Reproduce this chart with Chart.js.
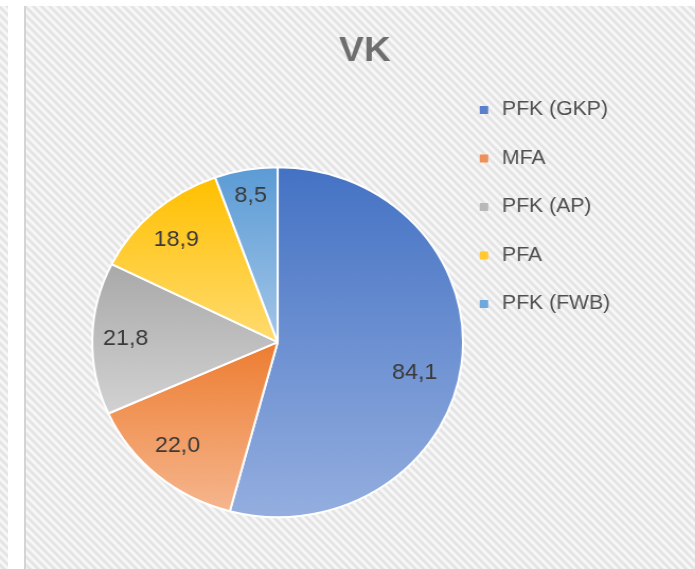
<!DOCTYPE html>
<html>
<head>
<meta charset="utf-8">
<script src="https://cdn.jsdelivr.net/npm/chart.js@4.4.0/dist/chart.umd.min.js"></script>
<style>
  html, body { margin: 0; padding: 0; }
  body { width: 695px; height: 569px; overflow: hidden; position: relative; background: #fff; }
  .hatch {
    position: absolute;
    background: repeating-linear-gradient(45deg, #fbfbfb 0px, #e0e0e0 2.9px, #fbfbfb 5.8px);
  }
  #strip { left: 0; top: 6px; width: 8px; bottom: 0; }
  #panel { left: 24px; top: 6px; right: 0; bottom: 0; border-left: 2px solid #d4d4d4; }
  /* the reference is stretched a little horizontally, so stretch the canvas the same way */
  #wrap { position: absolute; left: 0; top: 0; width: 656px; height: 569px; transform: scaleX(1.0595); transform-origin: 0 0; }
</style>
</head>
<body>
<div id="strip" class="hatch"></div>
<div id="panel" class="hatch"></div>
<div id="wrap"><canvas id="chart" width="656" height="569"></canvas></div>
<script>
const categories = ['PFK (GKP)', 'MFA', 'PFK (AP)', 'PFA', 'PFK (FWB)'];
const values = [84.1, 22.0, 21.8, 18.9, 8.5];
const baseColors = ['#4472C4', '#ED7D31', '#A9A9A9', '#FFC000', '#5B9BD5'];
const lightColors = ['#94AEDF', '#F6B68E', '#D2D2D2', '#FFDB70', '#A3C6E8'];
const legendColors = ['#5A80C9', '#EE9058', '#B8B8B8', '#FFCA33', '#70A8DB'];

const PIE_RADIUS = 175;
// label placement inside each slice (fraction of radius, angle tweak in degrees)
const labelDist = [0.76, 0.80, 0.82, 0.80, 0.85];
const labelShift = [6, 2, 0, -1.5, 0];

const fmt = v => v.toFixed(1).replace('.', ',');
const FONT = '"Liberation Sans", Arial, sans-serif';

// vertical gradient over each slice's own bounding box
function sliceFill(context) {
  const i = context.dataIndex;
  const area = context.chart.chartArea;
  if (i === undefined || !area) return baseColors[0];
  const total = values.reduce((s, v) => s + v, 0);
  const before = values.slice(0, i).reduce((s, v) => s + v, 0);
  const a0 = -Math.PI / 2 + 2 * Math.PI * before / total;
  const a1 = a0 + 2 * Math.PI * values[i] / total;
  const cy = (area.top + area.bottom) / 2;
  let top = cy, bottom = cy;
  [a0, a1].forEach(a => {
    const y = cy + Math.sin(a) * PIE_RADIUS;
    top = Math.min(top, y);
    bottom = Math.max(bottom, y);
  });
  if (a0 <= Math.PI / 2 && a1 >= Math.PI / 2) bottom = cy + PIE_RADIUS;
  if (a0 <= -Math.PI / 2 + 1e-6 || a1 >= 1.5 * Math.PI - 1e-6) top = cy - PIE_RADIUS;
  const g = context.chart.ctx.createLinearGradient(0, top, 0, bottom);
  g.addColorStop(0, baseColors[i]);
  g.addColorStop(1, lightColors[i]);
  return g;
}

const valueLabels = {
  id: 'valueLabels',
  afterDatasetsDraw(chart) {
    const ctx = chart.ctx;
    const meta = chart.getDatasetMeta(0);
    ctx.save();
    ctx.font = '22px ' + FONT;
    ctx.fillStyle = '#3a3a3a';
    ctx.textAlign = 'center';
    ctx.textBaseline = 'middle';
    meta.data.forEach((arc, i) => {
      const p = arc.getProps(['x', 'y', 'startAngle', 'endAngle', 'outerRadius'], true);
      const a = (p.startAngle + p.endAngle) / 2 + labelShift[i] * Math.PI / 180;
      const r = p.outerRadius * labelDist[i];
      ctx.fillText(fmt(values[i]), p.x + Math.cos(a) * r, p.y + Math.sin(a) * r);
    });
    ctx.restore();
  }
};

new Chart(document.getElementById('chart'), {
  type: 'pie',
  data: {
    labels: categories,
    datasets: [{
      data: values,
      backgroundColor: sliceFill,
      borderColor: '#ffffff',
      borderWidth: 2,
      clip: false
    }]
  },
  options: {
    responsive: false,
    animation: false,
    events: [],
    radius: PIE_RADIUS,
    layout: {
      padding: { left: 102.8, right: 70, top: 0, bottom: 0 }
    },
    plugins: {
      title: {
        display: true,
        text: 'VK',
        color: '#6e6e6e',
        font: { family: FONT, size: 35, weight: 'bold' },
        padding: { top: 30, bottom: 43.4 }
      },
      legend: {
        position: 'right',
        align: 'start',
        title: { display: true, text: '', font: { size: 12 }, padding: { top: 0, bottom: 57 } },
        labels: {
          usePointStyle: true,
          pointStyle: 'rect',
          boxWidth: 14,
          boxHeight: 8,
          padding: 28.5,
          color: '#505050',
          font: { family: FONT, size: 20 },
          generateLabels: () => categories.map((t, i) => ({
            text: t,
            fillStyle: legendColors[i],
            strokeStyle: legendColors[i],
            lineWidth: 0,
            pointStyle: 'rect',
            fontColor: '#505050',
            hidden: false,
            index: i
          }))
        }
      },
      tooltip: { enabled: false }
    }
  },
  plugins: [valueLabels]
});
</script>
</body>
</html>
